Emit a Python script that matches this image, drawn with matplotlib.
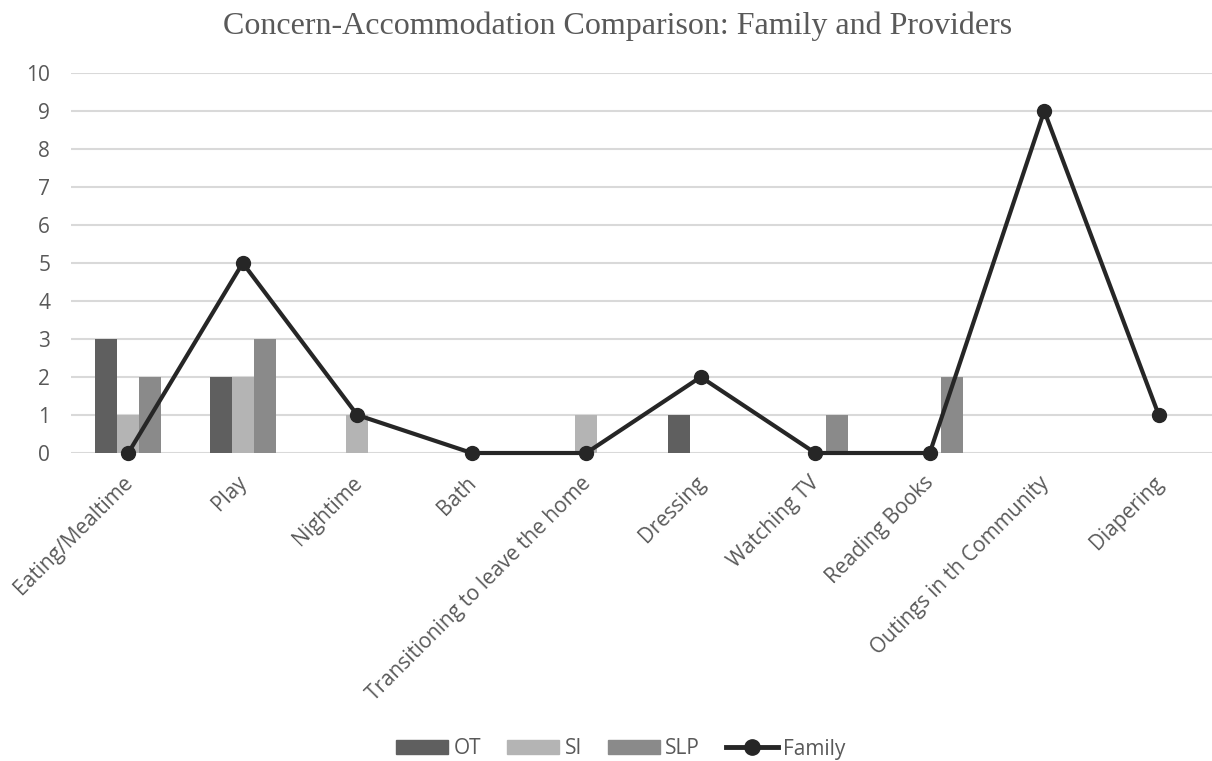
import matplotlib
matplotlib.use("Agg")
import matplotlib.pyplot as plt
import matplotlib.transforms as mtransforms
import numpy as np
from matplotlib.lines import Line2D
from matplotlib.patches import Patch

categories = ["Eating/Mealtime", "Play", "Nightime", "Bath",
              "Transitioning to leave the home", "Dressing", "Watching TV",
              "Reading Books", "Outings in th Community", "Diapering"]
ot = [3, 2, 0, 0, 0, 1, 0, 0, 0, 0]
si = [1, 2, 1, 0, 1, 0, 0, 0, 0, 0]
slp = [2, 3, 0, 0, 0, 0, 1, 2, 0, 0]
family = [0, 5, 1, 0, 0, 2, 0, 0, 9, 1]
y_ticks = list(range(0, 11))

W, H = 1212, 761
fig = plt.figure(figsize=(W / 100, H / 100), dpi=100)
ax = fig.add_axes([71 / W, (H - 453) / H, (1216 - 71) / W, (453 - 73) / H])

sans = ["Open Sans", "DejaVu Sans"]
text_col = "#595959"
fs = 15

x = np.arange(len(categories))
bw = 0.192
c_ot, c_si, c_slp = "#5f5f5f", "#b4b4b4", "#8a8a8a"
ax.bar(x - bw, ot, bw, color=c_ot, zorder=2)
ax.bar(x, si, bw, color=c_si, zorder=2)
ax.bar(x + bw, slp, bw, color=c_slp, zorder=2)
ax.plot(x, family, color="#262626", lw=3, marker="o", ms=10, zorder=3,
        clip_on=False)

ax.set_xlim(-0.5, len(categories) - 0.5)
ax.set_ylim(0, 10)
ax.set_yticks(y_ticks)
ax.set_yticklabels([str(v) for v in y_ticks], fontfamily=sans, fontsize=fs,
                   color=text_col)
ax.set_xticks(x)
ax.set_xticklabels(categories, rotation=45, ha="right",
                   rotation_mode="anchor", fontfamily=sans, fontsize=fs,
                   color=text_col)
ax.tick_params(axis="both", length=0)
ax.tick_params(axis="y", pad=15)
ax.tick_params(axis="x", pad=14)
# nudge the slanted category labels slightly left
shift = mtransforms.ScaledTranslation(-6 / 100, 0, fig.dpi_scale_trans)
for lbl in ax.get_xticklabels():
    lbl.set_transform(lbl.get_transform() + shift)
ax.yaxis.grid(True, color="#d9d9d9", lw=1.5, zorder=0)
ax.set_axisbelow(True)
for s in ax.spines.values():
    s.set_visible(False)

fig.text(618 / W, 1 - 34 / H,
         "Concern-Accommodation Comparison: Family and Providers",
         ha="center", va="baseline", fontfamily="Liberation Serif",
         fontsize=23, color=text_col)

handles = [Patch(color=c_ot, label="OT"), Patch(color=c_si, label="SI"),
           Patch(color=c_slp, label="SLP"),
           Line2D([], [], color="#262626", lw=3.5, marker="o", ms=11,
                  label="Family")]
fig.legend(handles=handles, loc="center", bbox_to_anchor=(621 / W, 1 - 749 / H),
           ncol=4, frameon=False, handlelength=2.5, handleheight=0.62,
           columnspacing=1.25, handletextpad=0.25,
           prop={"family": sans, "size": fs}, labelcolor=text_col)

fig.savefig("out.png", dpi=100, facecolor="white")
